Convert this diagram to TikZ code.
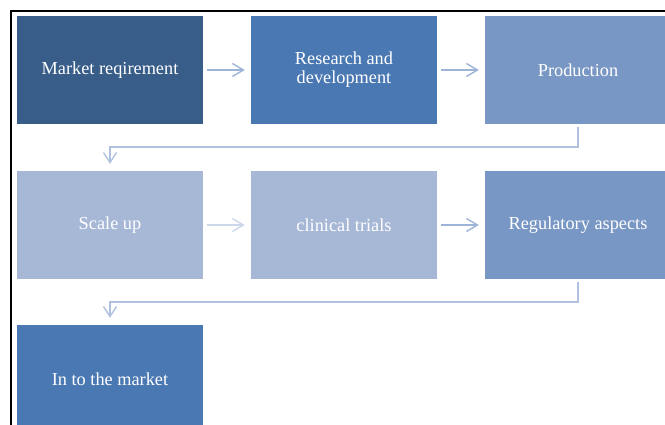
\documentclass[tikz,border=0pt]{standalone}
\usepackage{fontspec}
\setmainfont{Liberation Serif}
\usetikzlibrary{arrows.meta,calc}
\definecolor{cDark}{HTML}{395D89}
\definecolor{cMid}{HTML}{4A78B2}
\definecolor{cSoft}{HTML}{7897C4}
\definecolor{cPale}{HTML}{A7B8D7}
\definecolor{cArrow}{HTML}{9DB3D8}
\definecolor{cArrowPale}{HTML}{CCD7EA}
\definecolor{cElbow}{HTML}{AFC1DE}
\begin{document}
\begin{tikzpicture}[x=1pt,y=-1pt,
  stepbox/.style={rectangle, minimum width=186pt, minimum height=108pt, inner sep=0pt,
    text=white, align=center, font=\fontsize{18.3}{18.8}\selectfont},
  flow/.style={draw=cArrow, line width=1.4pt, -{Straight Barb[length=11pt,width=13pt]},
    shorten <=4pt, shorten >=6pt},
  elbow/.style={draw=cElbow, line width=1.4pt, -{Straight Barb[length=10pt,width=13pt]},
    shorten <=3pt, shorten >=7pt}]
\useasboundingbox (0,0) rectangle (665,425);
\clip (0,0) rectangle (665,425);
\draw[line width=2pt] (11,440) -- (11,11) -- (680,11);
\node[stepbox, fill=cDark] (a) at (110,70) {Market reqirement};
\node[stepbox, fill=cMid] (b) at (344,70) {Research and\\development};
\node[stepbox, fill=cSoft] (c) at (578,70) {Production};
\node[stepbox, fill=cPale] (d) at (110,225) {Scale up};
\node[stepbox, fill=cPale] (e) at (344,225) {clinical trials};
\node[stepbox, fill=cSoft] (f) at (578,225) {Regulatory aspects};
\node[stepbox, fill=cMid] (g) at (110,379) {In to the market};
\draw[flow] (a.east) -- (b.west);
\draw[flow] (b.east) -- (c.west);
\draw[flow, draw=cArrowPale] (d.east) -- (e.west);
\draw[flow] (e.east) -- (f.west);
\draw[elbow] (c.south) -- ++(0,23) -| (d.north);
\draw[elbow] (f.south) -- ++(0,23) -| (g.north);
\end{tikzpicture}
\end{document}
